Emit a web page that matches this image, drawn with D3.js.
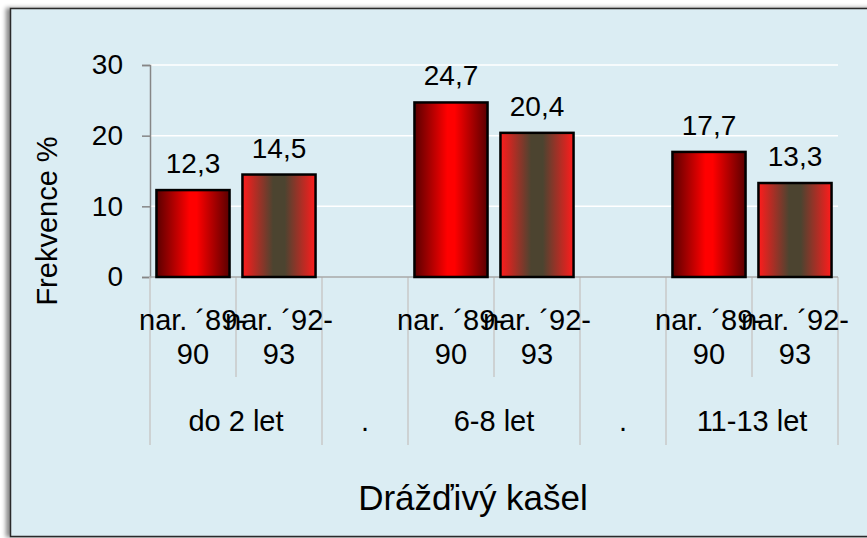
<!DOCTYPE html>
<html>
<head>
<meta charset="utf-8">
<script src="https://d3js.org/d3.v7.min.js"></script>
<style>
  body { margin: 0; background: #fff; }
  svg { display: block; font-family: "Liberation Sans", Arial, sans-serif; }
</style>
</head>
<body>
<div id="chart"></div>
<script>
// Data ----------------------------------------------------------------------->
const groups = ['do 2 let', '.', '6-8 let', '.', '11-13 let'];
const cohorts = ['nar. \u00b489-90', 'nar. \u00b492-93'];
const values_89 = [12.3, 24.7, 17.7];
const values_92 = [14.5, 20.4, 13.3];
const y_ticks = [0, 10, 20, 30];
const y_title = 'Frekvence %';
const x_title = 'Drážďivý kašel';

// Build slots: real groups get one slot per cohort, '.' gets one empty slot
const slots = [];
let vi = 0;
groups.forEach((g, gi) => {
  if (g === '.') {
    slots.push({ group: gi, cohort: null, value: null });
  } else {
    slots.push({ group: gi, cohort: 0, value: values_89[vi] });
    slots.push({ group: gi, cohort: 1, value: values_92[vi] });
    vi++;
  }
});
slots.forEach((s, i) => s.id = i);

// Setup ---------------------------------------------------------------------->
const width = 867, height = 538;
const plot = { left: 150, right: 838, top: 65, bottom: 277 };

const svg = d3.select('#chart')
  .append('svg')
    .attr('width', width)
    .attr('height', height);

const defs = svg.append('defs');

const shadow = defs.append('filter')
    .attr('id', 'frame-shadow')
    .attr('x', '-5%').attr('y', '-5%')
    .attr('width', '110%').attr('height', '110%');
shadow.append('feDropShadow')
    .attr('dx', -4).attr('dy', 0)
    .attr('stdDeviation', 2)
    .attr('flood-color', '#000')
    .attr('flood-opacity', 0.45);

function add_gradient(id, stops) {
  const g = defs.append('linearGradient')
      .attr('id', id)
      .attr('x1', '0%').attr('x2', '100%')
      .attr('y1', '0%').attr('y2', '0%');
  stops.forEach(([o, c]) => g.append('stop').attr('offset', o).attr('stop-color', c));
}
add_gradient('grad-89', [[0, '#5a0000'], [0.45, '#ff0000'], [0.55, '#ff0000'], [1, '#5a0000']]);
add_gradient('grad-92', [[0, '#ff1c1c'], [0.42, '#4c4430'], [0.58, '#4c4430'], [1, '#ff1c1c']]);

// Frame
svg.append('rect')
    .attr('x', 10.5).attr('y', 8.5)
    .attr('width', 900).attr('height', 528)
    .attr('fill', '#dbedf3')
    .attr('stroke', '#2b2b2b')
    .attr('stroke-width', 1.5)
    .attr('filter', 'url(#frame-shadow)');

// Scales
const x = d3.scaleBand()
    .domain(slots.map(d => d.id))
    .range([plot.left, plot.right])
    .paddingInner(0.15)
    .paddingOuter(0.075);
const step = x.step();
const y = d3.scaleLinear()
    .domain([0, 30])
    .range([plot.bottom, plot.top]);

// Gridlines
svg.append('g')
  .selectAll('line')
  .data(y_ticks.filter(t => t > 0))
  .join('line')
    .attr('x1', plot.left).attr('x2', plot.right)
    .attr('y1', d => y(d)).attr('y2', d => y(d))
    .attr('stroke', '#ffffff')
    .attr('stroke-width', 1.5);

// Y axis
const y_axis = svg.append('g')
    .attr('transform', `translate(${plot.left},0)`)
    .call(d3.axisLeft(y).tickValues(y_ticks).tickSize(8).tickPadding(19).tickFormat(d3.format('d')));
y_axis.select('.domain').attr('stroke', '#868686').attr('stroke-width', 1.5);
y_axis.selectAll('.tick line').attr('stroke', '#868686').attr('stroke-width', 1.5);
y_axis.selectAll('.tick text')
    .attr('font-size', 28)
    .attr('font-family', '"Liberation Sans", Arial, sans-serif')
    .attr('fill', '#000');

// Category separators (short ones inside a group, long ones between groups)
const bounds = d3.range(slots.length + 1).map(i => {
  const xb = plot.left + i * step;
  const inner = i > 0 && i < slots.length && slots[i - 1].group === slots[i].group;
  return { x: xb, inner: inner };
});
svg.append('g')
  .selectAll('line')
  .data(bounds)
  .join('line')
    .attr('x1', d => d.x).attr('x2', d => d.x)
    .attr('y1', plot.bottom)
    .attr('y2', d => d.inner ? 377 : 445)
    .attr('stroke', '#c9c9c9')
    .attr('stroke-width', 1.5);

// X axis line
svg.append('line')
    .attr('x1', plot.left).attr('x2', plot.right)
    .attr('y1', plot.bottom).attr('y2', plot.bottom)
    .attr('stroke', '#a8a8a8')
    .attr('stroke-width', 1.5);

// Bars
const bar_data = slots.filter(d => d.value !== null);
svg.append('g')
  .selectAll('rect')
  .data(bar_data)
  .join('rect')
    .attr('x', d => x(d.id))
    .attr('y', d => y(d.value))
    .attr('width', x.bandwidth())
    .attr('height', d => y(0) - y(d.value))
    .attr('fill', d => d.cohort === 0 ? 'url(#grad-89)' : 'url(#grad-92)')
    .attr('stroke', '#000')
    .attr('stroke-width', 2.5);

// Value labels
svg.append('g')
  .selectAll('text')
  .data(bar_data)
  .join('text')
    .attr('x', d => x(d.id) + x.bandwidth() / 2)
    .attr('y', d => y(d.value) - 17)
    .attr('text-anchor', 'middle')
    .attr('font-size', 28)
    .text(d => d3.format('.1f')(d.value).replace('.', ','));

// Cohort labels (wrapped onto two lines like the original)
const cohort_lines = cohorts.map(c => {
  const cut = c.lastIndexOf('-') + 1;
  return [c.slice(0, cut), c.slice(cut)];
});
const cohort_labels = svg.append('g')
  .selectAll('text')
  .data(bar_data)
  .join('text')
    .attr('text-anchor', 'middle')
    .attr('font-size', 29);
cohort_labels.selectAll('tspan')
  .data(d => cohort_lines[d.cohort].map(t => ({ t: t, cx: x(d.id) + x.bandwidth() / 2 })))
  .join('tspan')
    .attr('x', d => d.cx)
    .attr('y', (d, i) => 330 + i * 34)
    .text(d => d.t);

// Group labels
svg.append('g')
  .selectAll('text')
  .data(groups.map((g, gi) => {
    const s = slots.filter(d => d.group === gi);
    return { label: g, cx: (x(s[0].id) + x(s[s.length - 1].id) + x.bandwidth()) / 2 };
  }))
  .join('text')
    .attr('x', d => d.cx)
    .attr('y', 431)
    .attr('text-anchor', 'middle')
    .attr('font-size', 29)
    .text(d => d.label);

// Axis titles
svg.append('text')
    .attr('transform', 'translate(57,221) rotate(-90)')
    .attr('text-anchor', 'middle')
    .attr('font-size', 29)
    .text(y_title);

svg.append('text')
    .attr('x', 473)
    .attr('y', 510)
    .attr('text-anchor', 'middle')
    .attr('font-size', 35)
    .text(x_title);
</script>
</body>
</html>
